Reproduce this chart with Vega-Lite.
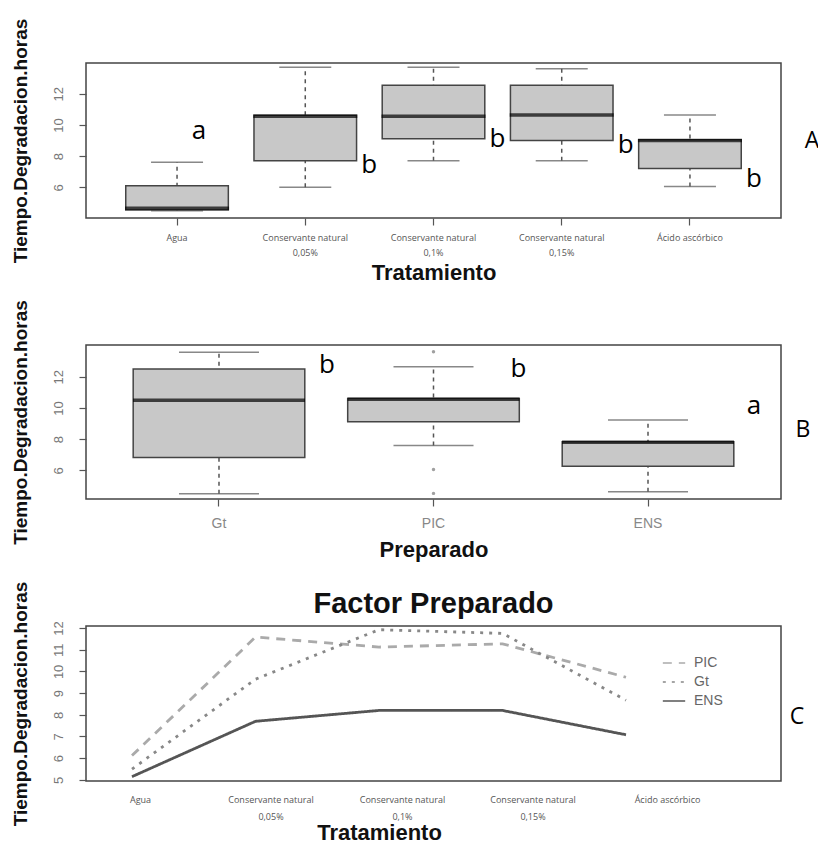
{
  "$schema": "https://vega.github.io/schema/vega-lite/v6.json",
  "background": "white",
  "padding": {"left": 10, "top": 17, "right": 0, "bottom": 0},
  "bounds": "flush",
  "spacing": 127,
  "config": {
    "view": {"stroke": "#444", "strokeWidth": 1.5},
    "axis": {"domain": false, "grid": false, "tickColor": "#555", "tickWidth": 1.2, "tickSize": 7, "labelColor": "#777", "labelFont": "Liberation Sans", "titleFont": "Liberation Sans", "titleFontWeight": "bold", "titleColor": "#111"},
    "text": {"font": "Open Sans", "color": "#000"}
  },
  "vconcat": [
    {
      "width": 695,
      "height": 155,
      "data": {"values": [
        {"trat": "Agua", "lo": 4.5, "q1": 4.55, "med": 4.65, "q3": 6.1, "hi": 7.6},
        {"trat": "Conservante natural|0,05%", "lo": 6.0, "q1": 7.7, "med": 10.55, "q3": 10.62, "hi": 13.7},
        {"trat": "Conservante natural|0,1%", "lo": 7.7, "q1": 9.12, "med": 10.55, "q3": 12.55, "hi": 13.7},
        {"trat": "Conservante natural|0,15%", "lo": 7.7, "q1": 9.0, "med": 10.63, "q3": 12.55, "hi": 13.6},
        {"trat": "Ácido ascórbico", "lo": 6.05, "q1": 7.2, "med": 9.0, "q3": 9.05, "hi": 10.63}
      ]},
      "encoding": {
        "x": {"field": "trat", "type": "nominal",
          "sort": ["Agua", "Conservante natural|0,05%", "Conservante natural|0,1%", "Conservante natural|0,15%", "Ácido ascórbico"],
          "scale": {"paddingInner": 0.2, "paddingOuter": 0.31},
          "axis": {"title": "Tratamiento", "labelExpr": "split(datum.label, '|')", "labelAngle": 0, "labelFont": "Open Sans", "labelFontSize": 9, "labelColor": "#555", "labelLineHeight": 15, "labelPadding": 8, "titleFontSize": 22, "titlePadding": 5}}
      },
      "layer": [
        {"mark": {"type": "rule", "color": "#555", "strokeWidth": 1.5, "strokeDash": [4, 4]},
         "encoding": {"y": {"field": "lo", "type": "quantitative", "scale": {"domain": [4.03, 13.97], "nice": false, "zero": false},
           "axis": {"title": "Tiempo.Degradacion.horas", "values": [6, 8, 10, 12], "labelOverlap": false, "labelAngle": -90, "labelAlign": "center", "labelBaseline": "bottom", "labelFontSize": 13, "labelPadding": 14, "titleFontSize": 19, "titlePadding": 22}},
           "y2": {"field": "hi"}}},
        {"mark": {"type": "tick", "color": "#555", "thickness": 1.5, "size": 52}, "encoding": {"y": {"field": "lo", "type": "quantitative"}}},
        {"mark": {"type": "tick", "color": "#555", "thickness": 1.5, "size": 52}, "encoding": {"y": {"field": "hi", "type": "quantitative"}}},
        {"mark": {"type": "bar", "fill": "#c8c8c8", "stroke": "#444", "strokeWidth": 1.5}, "encoding": {"y": {"field": "q1", "type": "quantitative"}, "y2": {"field": "q3"}}},
        {"mark": {"type": "tick", "color": "#000", "thickness": 3.5, "size": 104}, "encoding": {"y": {"field": "med", "type": "quantitative"}}},
        {"data": {"values": [{"trat": "Agua", "y": 9.6, "lab": "a"}]},
         "mark": {"type": "text", "fontSize": 26, "dx": 22, "baseline": "middle"},
         "encoding": {"y": {"field": "y", "type": "quantitative"}, "text": {"field": "lab"}}},
        {"data": {"values": [
          {"trat": "Conservante natural|0,05%", "y": 7.4, "lab": "b"},
          {"trat": "Conservante natural|0,1%", "y": 9.1, "lab": "b"},
          {"trat": "Conservante natural|0,15%", "y": 8.7, "lab": "b"},
          {"trat": "Ácido ascórbico", "y": 6.5, "lab": "b"}]},
         "mark": {"type": "text", "fontSize": 26, "dx": 64, "baseline": "middle"},
         "encoding": {"y": {"field": "y", "type": "quantitative"}, "text": {"field": "lab"}}},
        {"data": {"values": [{"trat": "Ácido ascórbico", "y": 8.97, "lab": "A"}]},
         "mark": {"type": "text", "fontSize": 23, "dx": 122, "baseline": "middle"},
         "encoding": {"y": {"field": "y", "type": "quantitative"}, "text": {"field": "lab"}}}
      ]
    },
    {
      "width": 695,
      "height": 154,
      "data": {"values": [
        {"prep": "Gt", "lo": 4.5, "q1": 6.83, "med": 10.5, "q3": 12.49, "hi": 13.56},
        {"prep": "PIC", "lo": 7.6, "q1": 9.11, "med": 10.55, "q3": 10.6, "hi": 12.64},
        {"prep": "ENS", "lo": 4.63, "q1": 6.26, "med": 7.8, "q3": 7.84, "hi": 9.23}
      ]},
      "encoding": {
        "x": {"field": "prep", "type": "nominal", "sort": ["Gt", "PIC", "ENS"],
          "scale": {"paddingInner": 0.2, "paddingOuter": 0.22},
          "axis": {"title": "Preparado", "labelAngle": 0, "labelFontSize": 14, "labelColor": "#888", "labelPadding": 10, "titleFontSize": 22, "titlePadding": 9}}
      },
      "layer": [
        {"mark": {"type": "rule", "color": "#555", "strokeWidth": 1.5, "strokeDash": [4, 4]},
         "encoding": {"y": {"field": "lo", "type": "quantitative", "scale": {"domain": [4.17, 14.03], "nice": false, "zero": false},
           "axis": {"title": "Tiempo.Degradacion.horas", "values": [6, 8, 10, 12], "labelOverlap": false, "labelAngle": -90, "labelAlign": "center", "labelBaseline": "bottom", "labelFontSize": 13, "labelPadding": 14, "titleFontSize": 19, "titlePadding": 22}},
           "y2": {"field": "hi"}}},
        {"mark": {"type": "tick", "color": "#555", "thickness": 1.5, "size": 80}, "encoding": {"y": {"field": "lo", "type": "quantitative"}}},
        {"mark": {"type": "tick", "color": "#555", "thickness": 1.5, "size": 80}, "encoding": {"y": {"field": "hi", "type": "quantitative"}}},
        {"mark": {"type": "bar", "fill": "#c8c8c8", "stroke": "#444", "strokeWidth": 1.5}, "encoding": {"y": {"field": "q1", "type": "quantitative"}, "y2": {"field": "q3"}}},
        {"mark": {"type": "tick", "color": "#000", "thickness": 3.5, "size": 172}, "encoding": {"y": {"field": "med", "type": "quantitative"}}},
        {"data": {"values": [{"prep": "PIC", "v": 13.6}, {"prep": "PIC", "v": 6.06}, {"prep": "PIC", "v": 4.53}]},
         "mark": {"type": "point", "filled": true, "color": "#777", "size": 12},
         "encoding": {"y": {"field": "v", "type": "quantitative"}}},
        {"data": {"values": [{"prep": "Gt", "y": 12.77, "lab": "b"}]},
         "mark": {"type": "text", "fontSize": 26, "dx": 108, "baseline": "middle"},
         "encoding": {"y": {"field": "y", "type": "quantitative"}, "text": {"field": "lab"}}},
        {"data": {"values": [{"prep": "PIC", "y": 12.5, "lab": "b"}]},
         "mark": {"type": "text", "fontSize": 26, "dx": 85, "baseline": "middle"},
         "encoding": {"y": {"field": "y", "type": "quantitative"}, "text": {"field": "lab"}}},
        {"data": {"values": [{"prep": "ENS", "y": 10.1, "lab": "a"}]},
         "mark": {"type": "text", "fontSize": 26, "dx": 106, "baseline": "middle"},
         "encoding": {"y": {"field": "y", "type": "quantitative"}, "text": {"field": "lab"}}},
        {"data": {"values": [{"prep": "ENS", "y": 8.58, "lab": "B"}]},
         "mark": {"type": "text", "fontSize": 23, "dx": 155, "baseline": "middle"},
         "encoding": {"y": {"field": "y", "type": "quantitative"}, "text": {"field": "lab"}}}
      ]
    },
    {
      "width": 695,
      "height": 155,
      "title": {"text": "Factor Preparado", "fontSize": 29, "font": "Liberation Sans", "fontWeight": "bold", "color": "#111", "offset": -38},
      "data": {"values": [
        {"trat": "Agua", "prep": "PIC", "v": 6.12},
        {"trat": "Conservante natural|0,05%", "prep": "PIC", "v": 11.58},
        {"trat": "Conservante natural|0,1%", "prep": "PIC", "v": 11.12},
        {"trat": "Conservante natural|0,15%", "prep": "PIC", "v": 11.27},
        {"trat": "Ácido ascórbico", "prep": "PIC", "v": 9.73},
        {"trat": "Agua", "prep": "Gt", "v": 5.5},
        {"trat": "Conservante natural|0,05%", "prep": "Gt", "v": 9.64},
        {"trat": "Conservante natural|0,1%", "prep": "Gt", "v": 11.92},
        {"trat": "Conservante natural|0,15%", "prep": "Gt", "v": 11.75},
        {"trat": "Ácido ascórbico", "prep": "Gt", "v": 8.67},
        {"trat": "Agua", "prep": "ENS", "v": 5.15},
        {"trat": "Conservante natural|0,05%", "prep": "ENS", "v": 7.7},
        {"trat": "Conservante natural|0,1%", "prep": "ENS", "v": 8.2},
        {"trat": "Conservante natural|0,15%", "prep": "ENS", "v": 8.2},
        {"trat": "Ácido ascórbico", "prep": "ENS", "v": 7.08}
      ]},
      "encoding": {
        "x": {"field": "trat", "type": "nominal",
          "sort": ["Agua", "Conservante natural|0,05%", "Conservante natural|0,1%", "Conservante natural|0,15%", "Ácido ascórbico"],
          "scale": {"type": "point", "range": [46, 540], "padding": 0},
          "axis": {"title": "Tratamiento", "ticks": false, "labelExpr": "split(datum.label, '|')", "labelAngle": 0, "labelFont": "Open Sans", "labelFontSize": 9, "labelColor": "#555", "labelLineHeight": 17, "labelPadding": 14,
            "labelOffset": {"condition": [
              {"test": "datum.value == 'Agua'", "value": 8},
              {"test": "datum.value == 'Conservante natural|0,05%'", "value": 15},
              {"test": "datum.value == 'Conservante natural|0,1%'", "value": 23},
              {"test": "datum.value == 'Conservante natural|0,15%'", "value": 30}], "value": 41},
            "titleFontSize": 22, "titlePadding": 1}},
        "y": {"field": "v", "type": "quantitative", "scale": {"domain": [4.95, 12.09], "nice": false, "zero": false},
          "axis": {"title": "Tiempo.Degradacion.horas", "values": [5, 6, 7, 8, 9, 10, 11, 12], "labelOverlap": false, "labelAngle": -90, "labelAlign": "center", "labelBaseline": "bottom", "labelFontSize": 13, "labelPadding": 14, "titleFontSize": 19, "titlePadding": 22}}
      },
      "layer": [
        {"mark": {"type": "line", "strokeWidth": 2.8},
         "encoding": {
           "color": {"field": "prep", "type": "nominal", "scale": {"domain": ["PIC", "Gt", "ENS"], "range": ["#aaaaaa", "#888888", "#555555"]},
             "legend": {"title": null, "orient": "none", "legendX": 576, "legendY": 588, "labelFontSize": 14, "labelColor": "#666", "labelFont": "Liberation Sans", "symbolType": "stroke", "symbolStrokeWidth": 1.5, "symbolSize": 500, "rowPadding": 0, "labelOffset": 8}},
           "strokeDash": {"field": "prep", "type": "nominal", "scale": {"domain": ["PIC", "Gt", "ENS"], "range": [[9, 7], [3, 6], [1, 0]]},
             "legend": {"title": null, "orient": "none", "legendX": 576, "legendY": 588, "labelFontSize": 14, "labelColor": "#666", "labelFont": "Liberation Sans", "symbolType": "stroke", "symbolStrokeWidth": 1.5, "symbolSize": 500, "rowPadding": 0, "labelOffset": 8}}
         }},
        {"data": {"values": [{"trat": "Ácido ascórbico", "v": 7.89, "lab": "C"}]},
         "mark": {"type": "text", "fontSize": 23, "dx": 171, "baseline": "middle"},
         "encoding": {"text": {"field": "lab"}}}
      ]
    }
  ]
}
